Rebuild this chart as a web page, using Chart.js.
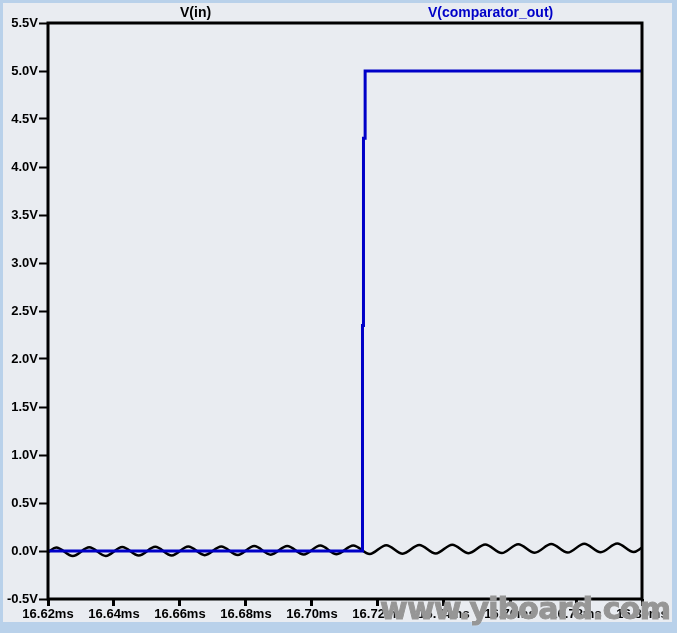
<!DOCTYPE html>
<html>
<head>
<meta charset="utf-8">
<script src="https://cdn.jsdelivr.net/npm/chart.js@4.4.0/dist/chart.umd.min.js"></script>
<style>
  body { margin: 0; background: #b9d1ea; }
  #wrap { position: relative; width: 677px; height: 633px; overflow: hidden; }
  #chartId { position: absolute; left: 0; top: 0; }
  .trace { position: absolute; top: 4px; font: bold 14px "Liberation Sans", Arial, sans-serif; white-space: nowrap; }
  #wm { position: absolute; left: 380px; top: 591px; font: 900 30px "DejaVu Sans", sans-serif; color: #969696;
        letter-spacing: -0.8px; white-space: nowrap; -webkit-text-stroke: 1px #969696; text-shadow: 0 0 2px #fff; }
</style>
</head>
<body>
<div id="wrap">
  <canvas id="chartId" width="677" height="633"></canvas>
  <div class="trace" id="lblIn" style="left:180px;color:#000">V(in)</div>
  <div class="trace" id="lblOut" style="left:428px;color:#0000c8">V(comparator_out)</div>
  <div id="wm">www.yiboard.com</div>
</div>
<script>
// time axis in ms, voltage in V
const xTicks = [16.62, 16.64, 16.66, 16.68, 16.70, 16.72, 16.74, 16.76, 16.78, 16.80];
const yTicks = [-0.5, 0.0, 0.5, 1.0, 1.5, 2.0, 2.5, 3.0, 3.5, 4.0, 4.5, 5.0, 5.5];

// V(in): ripple peaks and troughs
const vinTime = [16.620,
  16.6225, 16.6275, 16.6325, 16.6375, 16.6425, 16.6475, 16.6525, 16.6575, 16.6625, 16.6675,
  16.6725, 16.6775, 16.6825, 16.6875, 16.6925, 16.6975, 16.7025, 16.7075, 16.7125, 16.7175,
  16.7225, 16.7275, 16.7325, 16.7375, 16.7425, 16.7475, 16.7525, 16.7575, 16.7625, 16.7675,
  16.7725, 16.7775, 16.7825, 16.7875, 16.7925, 16.7975, 16.800];
const vinVolt = [-0.010,
  0.036, -0.053, 0.038, -0.051, 0.041, -0.048, 0.043, -0.046, 0.046, -0.043,
  0.048, -0.041, 0.051, -0.038, 0.053, -0.036, 0.056, -0.033, 0.058, -0.031,
  0.061, -0.028, 0.063, -0.026, 0.066, -0.023, 0.068, -0.021, 0.071, -0.018,
  0.073, -0.016, 0.076, -0.013, 0.078, -0.011, 0.035];

// V(comparator_out): low, then switches high in three short steps
const outTime = [16.620, 16.7153, 16.7153, 16.7156, 16.7156, 16.7161, 16.7161, 16.800];
const outVolt = [0.0, 0.0, 2.35, 2.35, 4.30, 4.30, 5.0, 5.0];

const frameBg = {
  id: 'frameBg',
  beforeDraw(chart) {
    const ctx = chart.ctx;
    ctx.save();
    ctx.fillStyle = '#b9d1ea';
    ctx.fillRect(0, 0, chart.width, chart.height);
    ctx.fillStyle = '#e9ecf1';
    ctx.fillRect(3, 3, 669, 619);
    ctx.restore();
  },
  afterDraw(chart) {
    const a = chart.chartArea;
    const ctx = chart.ctx;
    ctx.save();
    ctx.strokeStyle = '#000';
    ctx.lineWidth = 3;
    ctx.strokeRect(a.left, a.top, a.right - a.left, a.bottom - a.top);
    ctx.restore();
  }
};

const tickFont = { family: '"Liberation Sans", Arial, sans-serif', size: 13, weight: 'bold' };

document.addEventListener('DOMContentLoaded', function () {
  const chrt = document.getElementById('chartId').getContext('2d');
  new Chart(chrt, {
    type: 'line',
    data: {
      datasets: [{
        label: 'V(comparator_out)',
        data: outTime.map((t, i) => ({ x: t, y: outVolt[i] })),
        borderColor: '#0000c8',
        borderWidth: 3,
        pointRadius: 0,
        tension: 0,
        order: 0
      }, {
        label: 'V(in)',
        data: vinTime.map((t, i) => ({ x: t, y: vinVolt[i] })),
        borderColor: '#000000',
        borderWidth: 2.5,
        pointRadius: 0,
        cubicInterpolationMode: 'monotone',
        order: 1
      }]
    },
    options: {
      responsive: false,
      animation: false,
      layout: { padding: { top: 23, right: 35, left: 0, bottom: 0 } },
      plugins: { legend: { display: false }, tooltip: { enabled: false } },
      scales: {
        x: {
          type: 'linear',
          min: 16.62,
          max: 16.80,
          afterBuildTicks: s => { s.ticks = xTicks.map(v => ({ value: v })); },
          afterFit: s => { s.height = 34; },
          ticks: {
            callback: v => v.toFixed(2) + 'ms',
            color: '#000',
            font: tickFont,
            maxRotation: 0,
            autoSkip: false,
            padding: 1
          },
          grid: { drawOnChartArea: false, drawTicks: true, tickLength: 7, tickWidth: 3, tickColor: '#000' },
          border: { display: false }
        },
        y: {
          min: -0.5,
          max: 5.5,
          afterBuildTicks: s => { s.ticks = yTicks.map(v => ({ value: v })); },
          afterFit: s => { s.width = 48; },
          ticks: {
            callback: v => v.toFixed(1) + 'V',
            color: '#000',
            font: tickFont,
            padding: 1
          },
          grid: { drawOnChartArea: false, drawTicks: true, tickLength: 9, tickWidth: 2, tickColor: '#000' },
          border: { display: false }
        }
      }
    },
    plugins: [frameBg]
  });
});
</script>
</body>
</html>
